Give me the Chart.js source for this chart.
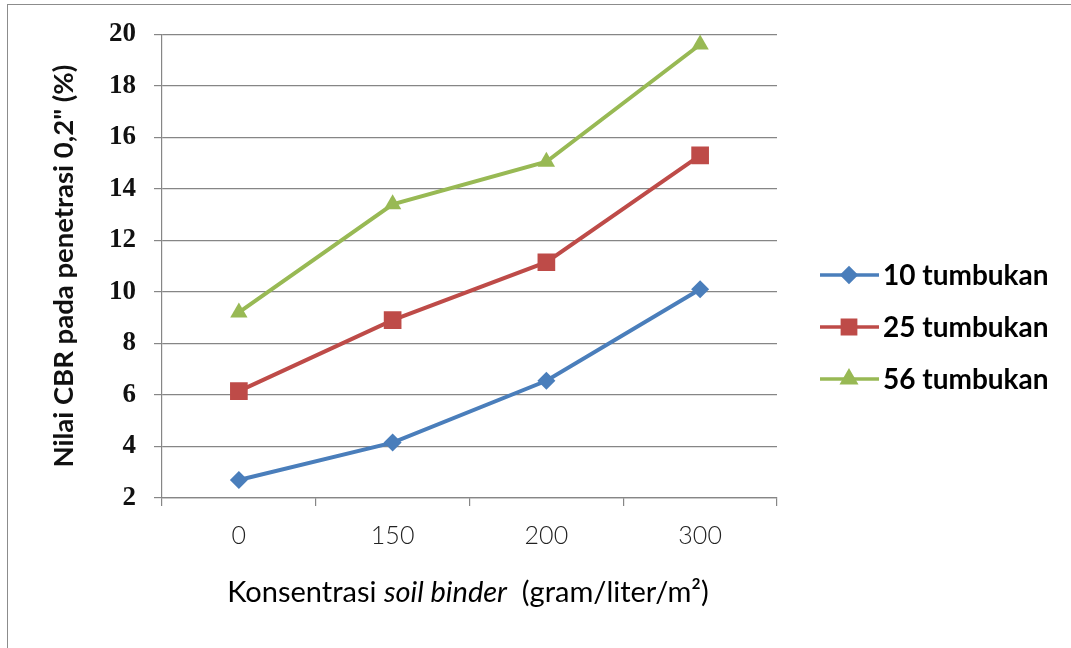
<!DOCTYPE html>
<html>
<head>
<meta charset="utf-8">
<script src="https://cdn.jsdelivr.net/npm/chart.js@4.4.1/dist/chart.umd.min.js"></script>
<style>
  html, body { margin: 0; padding: 0; background: #ffffff; }
  #wrap { position: relative; width: 1071px; height: 648px; overflow: hidden; }
  #frame { position: absolute; left: 7px; top: 4px; width: 1100px; height: 700px; border: 1px solid #8c8c8c; box-sizing: border-box; }
  canvas { position: absolute; left: 0; top: 0; }
</style>
</head>
<body>
<div id="wrap">
  <div id="frame"></div>
  <canvas id="c" width="1071" height="648"></canvas>
</div>
<script>
const categories = ['0', '150', '200', '300'];
const seriesNames = ['10 tumbukan', '25 tumbukan', '56 tumbukan'];
const tumbukan10 = [2.7, 4.15, 6.55, 10.1];
const tumbukan25 = [6.15, 8.9, 11.15, 15.3];
const tumbukan56 = [9.2, 13.4, 15.05, 19.6];
const yTicks = [2, 4, 6, 8, 10, 12, 14, 16, 18, 20];
const yTitle = 'Nilai CBR pada penetrasi 0,2" (%)';
const xTitleParts = [['Konsentrasi ', 'normal'], ['soil binder', 'italic'], ['  (gram/liter/m²)', 'normal']];

const colors = ['#4A7EBB', '#BE4B48', '#98B954'];
const styles = ['rectRot', 'rect', 'triangle'];
const radii = [9, 12.5, 10];

const legendPlugin = {
  id: 'customLegend',
  afterDraw(chart) {
    const ctx = chart.ctx;
    ctx.save();
    chart.data.datasets.forEach((ds, i) => {
      const y = 275 + i * 52;
      ctx.strokeStyle = ds.borderColor;
      ctx.lineWidth = 3.5;
      ctx.beginPath();
      ctx.moveTo(820, y);
      ctx.lineTo(879, y);
      ctx.stroke();
      ctx.fillStyle = ds.backgroundColor;
      ctx.beginPath();
      const r = ds.pointRadius * 0.75;
      Chart.helpers.drawPoint(ctx, { pointStyle: ds.pointStyle, rotation: 0, borderWidth: 1, radius: r }, 849, y);
      ctx.fill();
      ctx.fillStyle = '#000000';
      ctx.font = 'bold 28px Lato';
      ctx.textBaseline = 'middle';
      ctx.textAlign = 'left';
      ctx.fillText(ds.label, 883, y + 1);
    });
    ctx.restore();
  }
};

const xTitlePlugin = {
  id: 'xTitle',
  afterDraw(chart) {
    const ctx = chart.ctx;
    ctx.save();
    ctx.fillStyle = '#000000';
    ctx.textBaseline = 'middle';
    ctx.textAlign = 'left';
    let total = 0;
    const fonts = xTitleParts.map(p => (p[1] === 'italic' ? 'italic ' : '') + '29px Lato');
    xTitleParts.forEach((p, i) => { ctx.font = fonts[i]; total += ctx.measureText(p[0]).width; });
    let x = 468 - total / 2;
    xTitleParts.forEach((p, i) => {
      ctx.font = fonts[i];
      ctx.fillText(p[0], x, 593);
      x += ctx.measureText(p[0]).width;
    });
    ctx.restore();
  }
};

const datasets = [tumbukan10, tumbukan25, tumbukan56].map((vals, i) => ({
  label: seriesNames[i],
  data: vals,
  borderColor: colors[i],
  backgroundColor: colors[i],
  borderWidth: 4,
  pointStyle: styles[i],
  pointRadius: radii[i],
  pointHoverRadius: radii[i],
  pointBorderWidth: 0,
  tension: 0
}));

new Chart(document.getElementById('c'), {
  type: 'line',
  data: { labels: categories, datasets: datasets },
  options: {
    responsive: false,
    animation: false,
    devicePixelRatio: 1,
    layout: { padding: { left: 0, top: 32, right: 294, bottom: 0 } },
    plugins: {
      legend: { display: false },
      tooltip: { enabled: false }
    },
    scales: {
      x: {
        offset: true,
        grid: { offset: true, drawOnChartArea: false, drawTicks: true, tickLength: 8, color: '#868686', lineWidth: 1.2 },
        border: { display: true, color: '#868686', width: 1.2 },
        ticks: { color: '#222222', font: { family: 'Lato', size: 25, weight: '300' }, padding: 15 },
        afterFit(scale) { scale.height = 150; }
      },
      y: {
        min: 2,
        max: 20,
        afterBuildTicks(scale) { scale.ticks = yTicks.map(v => ({ value: v })); },
        grid: { color: '#868686', lineWidth: 1.2, drawTicks: true, tickLength: 8 },
        border: { display: true, color: '#868686', width: 1.2 },
        ticks: { color: '#111111', font: { family: 'Liberation Serif', size: 27, weight: 'bold' }, padding: 18 },
        title: { display: true, text: yTitle, color: '#111111', font: { family: 'Lato', size: 27.5, weight: 'bold' }, padding: { top: 48, bottom: 0 } },
        afterFit(scale) { scale.width = 162; }
      }
    }
  },
  plugins: [legendPlugin, xTitlePlugin]
});
</script>
</body>
</html>
